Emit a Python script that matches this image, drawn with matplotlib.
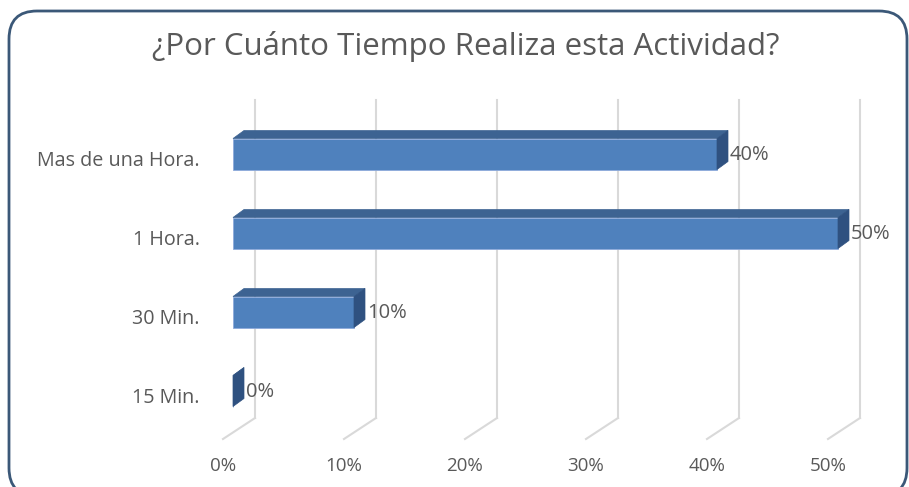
import numpy as np
import matplotlib
matplotlib.use('Agg')
import matplotlib.pyplot as plt
from matplotlib.patches import Polygon, FancyBboxPatch

plt.rcParams['font.family'] = ['Open Sans', 'DejaVu Sans']

# data
categories = ['15 Min.', '30 Min.', '1 Hora.', 'Mas de una Hora.']
values = [0, 10, 50, 40]
ticks = [0, 10, 20, 30, 40, 50]
title = '¿Por Cuánto Tiempo Realiza esta Actividad?'

# colours
front_col = '#4F81BD'
top_col = '#3D6392'
side_col = '#2F5180'
grid_col = '#D9D9D9'
text_col = '#595959'

W, H = 909, 487
fig = plt.figure(figsize=(W / 100, H / 100), dpi=100)

# background with rounded border, in pixels
bg = fig.add_axes([0, 0, 1, 1])
bg.set_xlim(0, W)
bg.set_ylim(H, 0)
bg.axis('off')
bg.add_patch(FancyBboxPatch((9, 11), 898, 485, boxstyle='round,pad=0,rounding_size=28',
                            fc='white', ec='#3B5878', lw=2))
bg.text(466, 47, title, ha='center', va='center', fontsize=22.5, color=text_col)

# plot area: 0% at x=233px, 50% at x=838px; category i at y=391-79*i px
px = 50 / 605.0          # % per pixel
py = 1 / 79.0            # category units per pixel
ax = fig.add_axes([0, 0, 1, 1], facecolor='none')
ax.set_xlim(-233 * px, (W - 233) * px)
ax.set_ylim(-(H - 391) * py, 391 * py)
ax.axis('off')

# 3d offsets (pixels converted to data)
bdx, bdy = 11 * px, 8 * py          # bar depth
back_dx, back_y = 22 * px, -27 * py   # back wall
front_dx, front_y = -10 * px, -48 * py  # front edge of floor
top_y = 291 * py

for t in ticks:
    ax.plot([t + back_dx, t + back_dx], [back_y, top_y], color=grid_col, lw=1.5, zorder=1)
    ax.plot([t + back_dx, t + front_dx], [back_y, front_y], color=grid_col, lw=1.5, zorder=1)
    ax.text(t + front_dx, -75 * py, f'{t}%', ha='center', va='center',
            fontsize=13.5, color=text_col)

h = 31 * py
for i, (cat, v) in enumerate(zip(categories, values)):
    y0, y1 = i - h / 2, i + h / 2
    ax.add_patch(Polygon([(0, y0), (v, y0), (v, y1), (0, y1)], closed=True,
                         fc=front_col, ec='#8EAADB', lw=0.6, zorder=3))
    ax.add_patch(Polygon([(0, y1), (v, y1), (v + bdx, y1 + bdy), (bdx, y1 + bdy)], closed=True,
                         fc=top_col, ec=top_col, lw=0.5, zorder=3))
    ax.add_patch(Polygon([(v, y0), (v, y1), (v + bdx, y1 + bdy), (v + bdx, y0 + bdy)], closed=True,
                         fc=side_col, ec=side_col, lw=0.5, zorder=3))
    ax.text(v + bdx + 2 * px, i - 1 * py, f'{v}%', ha='left', va='center',
            fontsize=14.5, color=text_col, zorder=4)
    ax.text(-33 * px, i - 7 * py, cat, ha='right', va='center',
            fontsize=14.2, color=text_col)

fig.savefig('out.png', dpi=100)
